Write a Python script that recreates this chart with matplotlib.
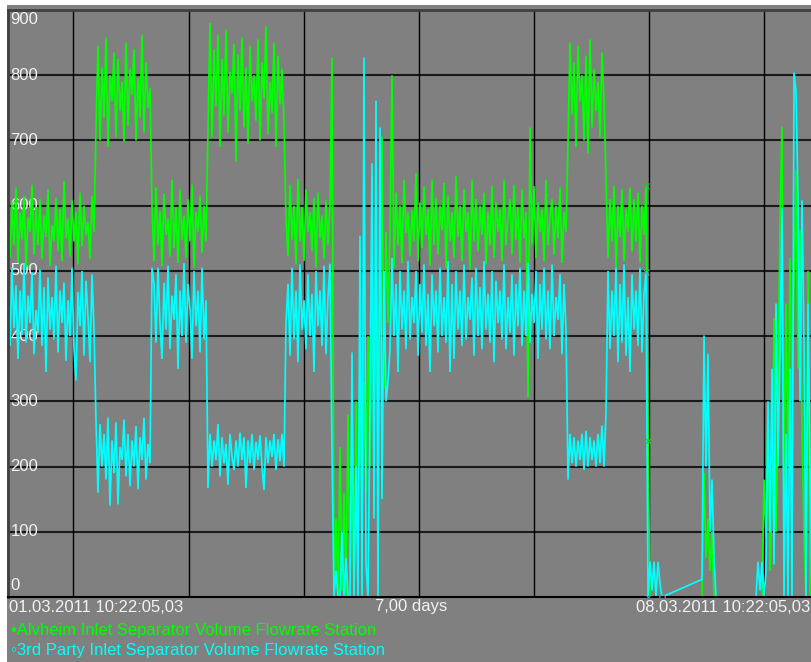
import numpy as np
import matplotlib
matplotlib.use("Agg")
import matplotlib.pyplot as plt
from matplotlib.patches import Rectangle

# ---------------- data ----------------
SAMPLE_DAYS = 0.01737           # sampling interval (days)
MIDNIGHT_OFFSET = 0.568         # first midnight after start (days)
N_DAYS = 7.0

series_names = ["Alvheim Inlet Separator Volume Flowrate Station",
                "3rd Party Inlet Separator Volume Flowrate Station"]

# ---- Alvheim (green), consecutive operating periods ----
g_a = [575, 520, 605, 540, 628, 512, 590, 548, 615, 505, 582, 560, 632, 525, 598,
       540, 610, 518, 585, 552, 625, 508, 570, 545, 612, 530, 595, 515, 638, 550,
       580, 522, 608, 545, 590, 510, 620, 538, 600, 555, 575, 518, 615, 560]
g_b = [720, 845, 700, 812, 735, 858, 690, 800, 760, 835, 705, 825, 745, 790, 698,
       850, 722, 810, 770, 840, 700, 795, 735, 862, 712, 820, 750, 780]
g_c = [600, 515, 628, 540, 592, 508, 618, 555, 580, 522, 640, 535, 598, 512, 625,
       548, 585, 520, 610, 545, 632, 505, 590, 560, 615, 528, 600, 545]
g_d = [718, 880, 705, 840, 752, 862, 690, 825, 738, 870, 712, 805, 772, 848, 668,
       832, 745, 858, 720, 812, 695, 845, 760, 800, 730, 855, 700, 820, 765, 875,
       710, 790, 742, 850, 690, 830, 755, 810, 725]
g_e = [580, 522, 632, 548, 600, 510, 641, 545, 598, 515, 625, 560, 590, 530, 612,
       505, 620, 550, 585, 518, 608, 540, 600]
g_f = [827, 0, 120, 0, 230, 10, 160, 0, 280, 40, 200, 0, 300, 60, 350, 120, 330,
       160, 400, 200, 460, 240, 520, 280, 480, 706, 320, 560]
g_g = [420, 560, 800, 505, 620, 540, 600, 512, 640, 558,
       590, 522, 593, 545, 650, 515, 605, 535, 630, 555,
       595, 508, 640, 540, 612, 525, 600, 562, 635, 505,
       615, 545, 590, 520, 645, 552, 600, 515, 625, 560,
       590, 502, 640, 545, 610, 530, 600, 555, 620, 510,
       590, 540, 630, 520, 605, 560, 595, 515, 640, 540,
       580, 610, 525, 632, 548, 598, 512, 625, 550, 590,
       306, 720, 540, 630, 520, 605, 560, 595, 515, 640,
       540, 580, 610, 525, 600, 550, 628, 512, 590, 560]
g_h = [700, 850, 740, 820, 690, 845, 760, 800, 700, 830, 680, 855, 720, 810, 745,
       790, 705, 835, 760]
g_i = [640, 520, 610, 545, 630, 505, 600, 552, 625, 515, 595, 560, 628, 530, 610,
       545, 620, 512, 600, 555, 630]
g_drop = [239]
g_j = ([0] * 27 + [190, 60, 120, 40, 100, 0] + [0] * 24 +
       [180, 90, 290, 40, 150, 427, 100, 300, 580, 721, 150, 450, 200, 520, 300,
        480, 654, 350, 562, 250, 100, 0, 500, 0, 0])

# ---- 3rd Party (cyan) ----
c_a = [450, 385, 505, 412, 478, 365, 470, 402, 512, 390, 462, 420, 498, 372, 440,
       405, 502, 385, 475, 345, 490, 410, 460, 395, 508, 375, 470, 420, 482, 362,
       455, 400, 505, 380, 332, 468, 415, 500, 370, 485, 430, 360, 495, 410]
c_b = [270, 160, 265, 200, 250, 180, 275, 140, 240, 190, 268, 142, 230, 210, 272,
       185, 250, 170, 240, 200, 262, 165, 245, 210, 275, 180, 235, 205]
c_c = [505, 480, 390, 505, 420, 365, 482, 410, 508, 380, 462, 425, 495, 350, 470,
       400, 512, 390, 480, 440, 365, 500, 415, 470, 375, 505, 395, 455]
c_d = [167, 250, 200, 240, 210, 265, 185, 245, 205, 235, 172, 250, 215, 195, 240,
       200, 252, 210, 245, 167, 240, 205, 250, 195, 238, 210, 248, 200, 164, 245,
       205, 240, 215, 250, 195, 242, 208, 250, 200]
c_e = [420, 480, 370, 505, 395, 470, 360, 510, 410, 455, 380, 495, 400, 465, 345,
       500, 415, 470, 385, 508, 372, 460, 511]
c_f = [220, 0, 40, 0, 0, 100, 0, 60, 0, 0, 375, 0, 200, 0, 554, 0, 827, 50, 0,
       300, 665, 120, 761, 0, 720, 150, 500, 300]
c_g = [330, 380, 520, 400, 480, 345, 500, 410, 470, 380,
       515, 395, 460, 420, 500, 370, 480, 405, 510, 385,
       465, 345, 495, 415, 470, 375, 505, 400, 460, 390,
       515, 345, 480, 365, 500, 410, 470, 385, 510, 395,
       460, 425, 490, 370, 505, 400, 475, 380, 515, 410,
       465, 390, 500, 360, 485, 420, 470, 395, 510, 380,
       460, 405, 495, 370, 480, 415, 505, 385, 470, 400,
       512, 390, 465, 420, 500, 365, 480, 410, 505, 395,
       470, 380, 510, 400, 460, 425, 495, 372, 480, 410]
c_h = [180, 250, 205, 245, 200, 240, 210, 250, 195, 255, 200, 245, 210, 240, 200,
       250, 205, 263, 200]
c_i = [283, 500, 380, 470, 400, 505, 360, 480, 390, 510, 370, 460, 345, 495, 410,
       470, 385, 505, 375, 465, 498]
c_drop = [0]
c_j = ([54, 10, 54, 0, 54, 20, 0] + [None] * 19 +          # None = no sample logged
       [27, 401, 200, 373, 100, 180, 60, 0] + [0] * 20 +
       [54, 10, 54, 0, 40, 300, 100, 350, 50, 450, 200, 380, 596, 0, 250, 0, 350,
        0, 804, 776, 612, 300, 608, 386, 0, 450, 200, 0])

alvheim = g_a + g_b + g_c + g_d + g_e + g_f + g_g + g_h + g_i + g_drop + g_j
third_party = c_a + c_b + c_c + c_d + c_e + c_f + c_g + c_h + c_i + c_drop + c_j

y_ticks = [0, 100, 200, 300, 400, 500, 600, 700, 800, 900]
start_label = "01.03.2011 10:22:05,03"
span_label = "7,00 days"
end_label = "08.03.2011 10:22:05,03"

# event markers (sample indices)
alvheim_cross_idx = [319, 320]
third_cross_idx = [319, 320]
third_circle_idx = [327]


def samples(vals):
    t = [i * SAMPLE_DAYS for i, v in enumerate(vals) if v is not None]
    y = [v for v in vals if v is not None]
    return np.array(t), np.array(y, dtype=float)


# ---------------- figure ----------------
W, H = 811, 662
GRAY = "#808080"
GREEN = "#00ff00"
CYAN = "#00ffff"
TXT = "#f2f2f2"
FONT = ["Liberation Sans", "DejaVu Sans"]

fig = plt.figure(figsize=(W / 100, H / 100), dpi=100, facecolor="white")
fig.patches.append(Rectangle((7 / W, 0), 1, (H - 5) / H, transform=fig.transFigure,
                             facecolor=GRAY, edgecolor="none", zorder=-10))

ax_l, ax_r, ax_t, ax_b = 8, 814, 10, 597
ax = fig.add_axes([ax_l / W, (H - ax_b) / H, (ax_r - ax_l) / W, (ax_b - ax_t) / H])
ax.set_facecolor(GRAY)
ax.set_xlim(0, N_DAYS)
ax.set_ylim(0, 900)

# grid
for yv in y_ticks[1:-1]:
    ax.axhline(yv, color="#1a1a1a", lw=1.5, zorder=0.6)
for k in range(7):
    ax.axvline(MIDNIGHT_OFFSET + k, color="black", lw=1.0, zorder=0.6)

ax.set_xticks([])
ax.set_yticks([])
for s in ["left", "top"]:
    ax.spines[s].set_color("#404040")
    ax.spines[s].set_linewidth(2.0)
ax.spines["bottom"].set_color("black")
ax.spines["bottom"].set_linewidth(1.5)
ax.spines["right"].set_visible(False)

# y labels inside plot (below data)
for yv in y_ticks:
    ypos = yv
    if yv == 900:
        ypos = 885
    elif yv == 0:
        ypos = 17
    ax.text(0.003, ypos, str(yv), transform=ax.get_yaxis_transform(),
            color=TXT, fontsize=12, family=FONT, ha="left", va="center", zorder=1)

# series
tg, yg = samples(alvheim)
tc, yc = samples(third_party)
ax.plot(tg, yg, color=GREEN, lw=1.25, zorder=2, solid_joinstyle="miter")
ax.plot(tc, yc, color=CYAN, lw=1.25, zorder=2.1, solid_joinstyle="miter")

ax.plot([i * SAMPLE_DAYS for i in alvheim_cross_idx], [alvheim[i] for i in alvheim_cross_idx],
        ls="none", marker="x", ms=4, mew=0.8, color="#22cc22", zorder=3)
ax.plot([i * SAMPLE_DAYS for i in third_cross_idx], [third_party[i] for i in third_cross_idx],
        ls="none", marker="x", ms=4, mew=0.8, color="#33bbbb", zorder=3)
ax.plot([i * SAMPLE_DAYS for i in third_circle_idx], [third_party[i] for i in third_circle_idx],
        ls="none", marker="o", ms=4, mew=0.8, mfc="none", color="#33bbbb", zorder=3)


# x labels
def px(x, y):
    return x / W, 1 - y / H


fig.text(*px(9, 607), start_label, color=TXT, fontsize=12, family=FONT, ha="left", va="center")
fig.text(*px(411, 607), span_label, color=TXT, fontsize=12, family=FONT, ha="center", va="center")
fig.text(*px(636, 607), end_label, color=TXT, fontsize=12, family=FONT, ha="left", va="center")

# legend
fig.text(*px(11, 630), "\u2022" + series_names[0], color=GREEN, fontsize=12, family=FONT,
         ha="left", va="center")
fig.text(*px(11, 651), "\u25e6" + series_names[1], color=CYAN, fontsize=12, family=FONT,
         ha="left", va="center")

fig.savefig("out.png", dpi=100, facecolor=fig.get_facecolor())
